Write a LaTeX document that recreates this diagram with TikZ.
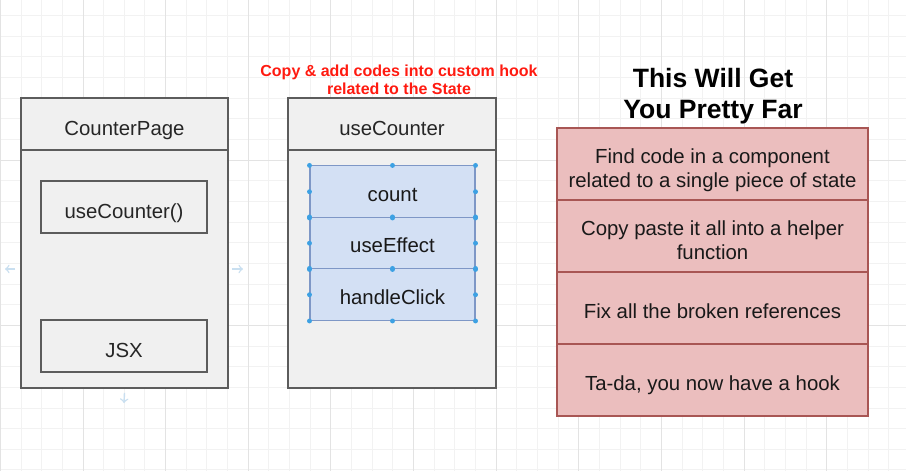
\documentclass[tikz,border=0pt]{standalone}
\usepackage{fontspec}
\setmainfont{Liberation Sans}
\definecolor{frameline}{HTML}{5C5C5C}
\definecolor{framefill}{HTML}{F0F0F0}
\definecolor{stepfill}{HTML}{D3E0F4}
\definecolor{stepline}{HTML}{7E97C6}
\definecolor{handle}{HTML}{3DA1E3}
\definecolor{notefill}{HTML}{EBBEBE}
\definecolor{noteline}{HTML}{A85654}
\definecolor{hintred}{HTML}{FF1A10}
\definecolor{gridlight}{HTML}{F2F2F2}
\definecolor{griddark}{HTML}{E3E3E3}
\definecolor{ghost}{HTML}{C9DFF0}
\newcommand{\boxfont}{\fontsize{11.6}{13.6}\selectfont}
\newcommand{\hintfont}{\fontsize{9.1}{10.2}\selectfont\bfseries}
\newcommand{\titlefont}{\fontsize{15.1}{17.4}\selectfont\bfseries}
\newcommand{\uprule}{\rule{0pt}{16pt}}
\newcommand{\downrule}{\rule[-3pt]{0pt}{3pt}}

\begin{document}
\begin{tikzpicture}[x=0.02cm,y=-0.02cm,
  frame/.style={draw=frameline,line width=1.1pt,fill=framefill,text=black!85,font=\boxfont,inner sep=0pt,text height=13pt,text depth=0pt},
  hookrow/.style={draw=stepline,line width=0.6pt,fill=stepfill,text=black!90,font=\boxfont,minimum width=3.3cm,minimum height=1.03cm,inner sep=0pt,text height=11pt,text depth=0pt},
  tipbox/.style={draw=noteline,line width=1.1pt,fill=notefill,text=black!90,font=\boxfont,align=center,minimum width=6.22cm,minimum height=1.44cm,inner sep=0pt},
  oneline/.style={text height=11.9pt,text depth=0pt},
  gridline/.style={draw=gridlight,line width=0.5pt},
  gridmajor/.style={draw=griddark,line width=0.5pt},
  ghostarrow/.style={draw=ghost,line width=0.8pt,->}]
\useasboundingbox (0,0) rectangle (906,471);
\fill[white] (0,0) rectangle (906,471);
% background grid
\foreach \i in {0,...,43}
  \draw[gridline] ({0.3+20.66*\i},0) -- ({0.3+20.66*\i},471);
\foreach \j in {0,...,22}
  \draw[gridline] (0,{15.4+20.66*\j}) -- (906,{15.4+20.66*\j});
\foreach \i in {0,...,10}
  \draw[gridmajor] ({0.3+82.64*\i},0) -- ({0.3+82.64*\i},471);
\draw[gridmajor] (0,160) -- (906,160);
\draw[gridmajor] (0,325) -- (906,325);

% CounterPage
\node[frame,minimum width=4.14cm,minimum height=4.76cm] (cpbody) at (124.5,269) {};
\node[frame,minimum width=4.14cm,minimum height=1.04cm] (cphead) at (124.5,124) {CounterPage};
\node[frame,minimum width=3.32cm,minimum height=1.04cm] (call) at (124,207) {useCounter()};
\node[frame,minimum width=3.32cm,minimum height=1.04cm] (jsx) at (124,346) {JSX};
\coordinate (leftend) at (5,269);
\coordinate (rightend) at (243,269);
\coordinate (downend) at (124,403);
\draw[ghostarrow] (cpbody.west) ++(-5,0) -- (leftend);
\draw[ghostarrow] (cpbody.east) ++(3,0) -- (rightend);
\draw[ghostarrow] (cpbody.south) ++(0,4) -- (downend);

% useCounter
\node[font=\hintfont,text=hintred,align=center] (hint) at (399,80) {Copy \& add codes into custom hook\\related to the State};
\node[frame,minimum width=4.16cm,minimum height=4.76cm] (ucbody) at (392,269) {};
\node[frame,minimum width=4.16cm,minimum height=1.04cm] (uchead) at (392,124) {useCounter};
\node[hookrow] (count) at (392.5,191.7) {count};
\node[hookrow] (effect) at (392.5,243.2) {useEffect};
\node[hookrow] (click) at (392.5,294.7) {handleClick};
\foreach \r in {count,effect,click}
  \foreach \a in {north west,north,north east,east,south east,south,south west,west}
    \fill[handle] (\r.\a) circle (1.4pt);

% steps
\node[font=\titlefont,align=center] (title) at (713,96) {This Will Get\\You Pretty Far};
\node[tipbox] (find) at (712.5,164) {\uprule Find code in a component\\related to a single piece of state\downrule};
\node[tipbox] (paste) at (712.5,236) {\uprule Copy paste it all into a helper\\function\downrule};
\node[tipbox,oneline] (fix) at (712.5,308) {Fix all the broken references};
\node[tipbox,oneline] (tada) at (712.5,380) {Ta-da, you now have a hook};
\end{tikzpicture}
\end{document}
